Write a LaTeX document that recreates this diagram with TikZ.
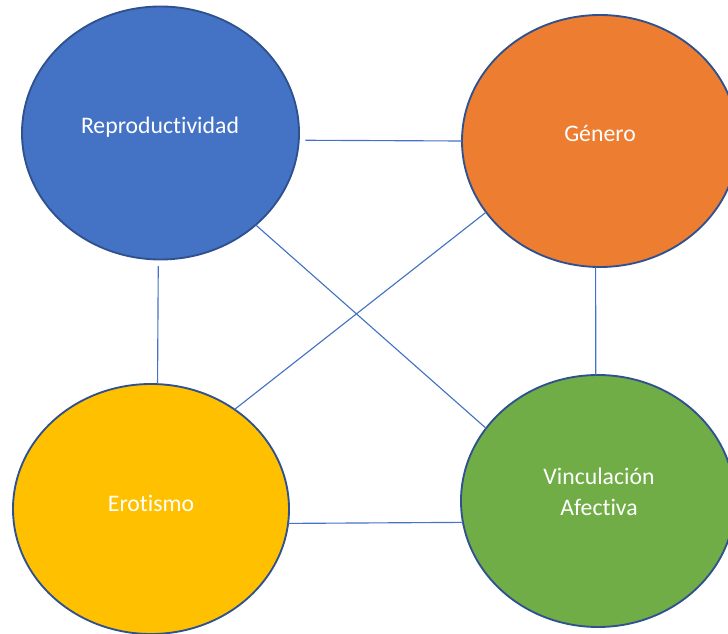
\documentclass[tikz,border=0pt]{standalone}
\usepackage{fontspec}
\setmainfont{Carlito}[Ligatures=NoCommon]
\usetikzlibrary{shapes.geometric}
\definecolor{cblue}{HTML}{4472C4}
\definecolor{corange}{HTML}{ED7D31}
\definecolor{cyellow}{HTML}{FFC000}
\definecolor{cgreen}{HTML}{70AD47}
\definecolor{cborder}{HTML}{2F528F}
\begin{document}
\begin{tikzpicture}[x=0.75pt,y=-0.75pt,
  ell/.style={ellipse, draw=cborder, line width=1.4pt, inner sep=0pt, outer sep=0pt},
  lbl/.style={text=white, font=\fontsize{17.8}{23.5}\selectfont, align=center, inner sep=0pt},
  conn/.style={draw=cblue, line width=0.85pt}]
\useasboundingbox (0,0) rectangle (728,634);
\node[ell, fill=cblue, minimum width=207.75pt, minimum height=189.75pt] (rep) at (160.5,133) {};
\node[ell, fill=corange, minimum width=207pt, minimum height=189pt] (gen) at (600,141) {};
\node[ell, fill=cyellow, minimum width=207pt, minimum height=187.5pt] (ero) at (151,509) {};
\node[ell, fill=cgreen, minimum width=205.5pt, minimum height=189pt] (vin) at (598,501) {};
\node[lbl] (repT) at (160,127) {Reproductividad};
\node[lbl] (genT) at (600,133) {Género};
\node[lbl] (eroT) at (151,503) {Erotismo};
\node[lbl] (vinT) at (599,492) {Vinculación\\Afectiva};
\draw[conn, shorten <=5pt] (rep.-3.5) -- (gen.180);
\draw[conn, shorten <=5pt] (rep.-91.1) -- (ero.87.7);
\draw[conn] (rep.-44.2) -- (vin.147.6);
\draw[conn] (gen.-148.75) -- (ero.50.5);
\draw[conn] (gen.-92.7) -- (vin.91.9);
\draw[conn] (ero.-6.3) -- (vin.-171.3);
\end{tikzpicture}
\end{document}
